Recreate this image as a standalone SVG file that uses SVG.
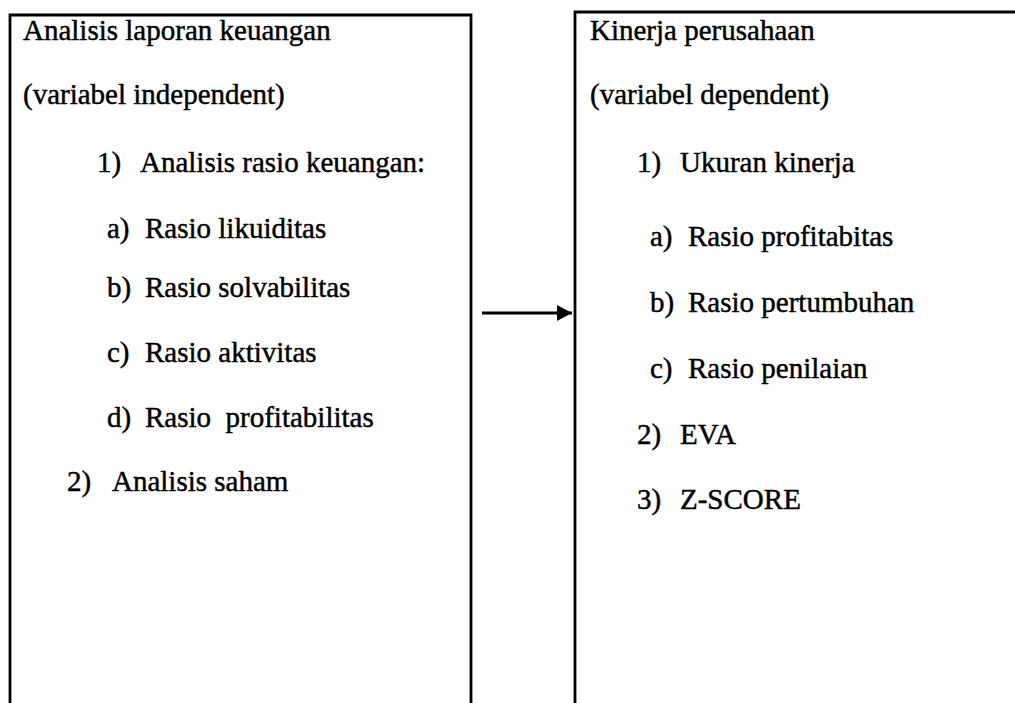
<svg xmlns="http://www.w3.org/2000/svg" width="1015" height="703" viewBox="0 0 1015 703">
<style>
text{font-family:"Liberation Serif","Times New Roman",serif;font-size:29px;fill:#000;stroke:#000;stroke-width:0.45}
.box{fill:none;stroke:#000;stroke-width:2.8}
.conn{stroke:#000;stroke-width:2.8;fill:none}
</style>
<defs>
<marker id="ah" markerUnits="userSpaceOnUse" markerWidth="16" markerHeight="16" refX="15" refY="8" orient="auto"><path d="M0,0 L15,8 L0,16 Z" fill="#000"/></marker>
</defs>
<rect width="1015" height="703" fill="#fff"/>
<g id="left-node">
<path class="box" d="M10,710 V15 H471 V710"/>
<text x="23" y="40">Analisis laporan keuangan</text>
<text x="23" y="104">(variabel independent)</text>
<text x="97" y="172">1)</text><text x="140" y="172">Analisis rasio keuangan:</text>
<text x="107" y="238">a)</text><text x="145" y="238">Rasio likuiditas</text>
<text x="107" y="297">b)</text><text x="145" y="297">Rasio solvabilitas</text>
<text x="107" y="362">c)</text><text x="145" y="362">Rasio aktivitas</text>
<text x="107" y="427">d)</text><text x="145" y="427" xml:space="preserve">Rasio  profitabilitas</text>
<text x="67" y="491">2)</text><text x="112" y="491">Analisis saham</text>
</g>
<g id="right-node">
<path class="box" d="M575,710 V12 H1020"/>
<text x="590" y="40">Kinerja perusahaan</text>
<text x="590" y="104">(variabel dependent)</text>
<text x="637" y="172">1)</text><text x="680" y="172">Ukuran kinerja</text>
<text x="650" y="246">a)</text><text x="688" y="246">Rasio profitabitas</text>
<text x="650" y="312">b)</text><text x="688" y="312">Rasio pertumbuhan</text>
<text x="650" y="378">c)</text><text x="688" y="378">Rasio penilaian</text>
<text x="637" y="444">2)</text><text x="680" y="444">EVA</text>
<text x="637" y="509">3)</text><text x="680" y="509">Z-SCORE</text>
</g>
<g id="connectors">
<line class="conn" x1="482" y1="313" x2="572" y2="313" marker-end="url(#ah)"/>
</g>
</svg>
